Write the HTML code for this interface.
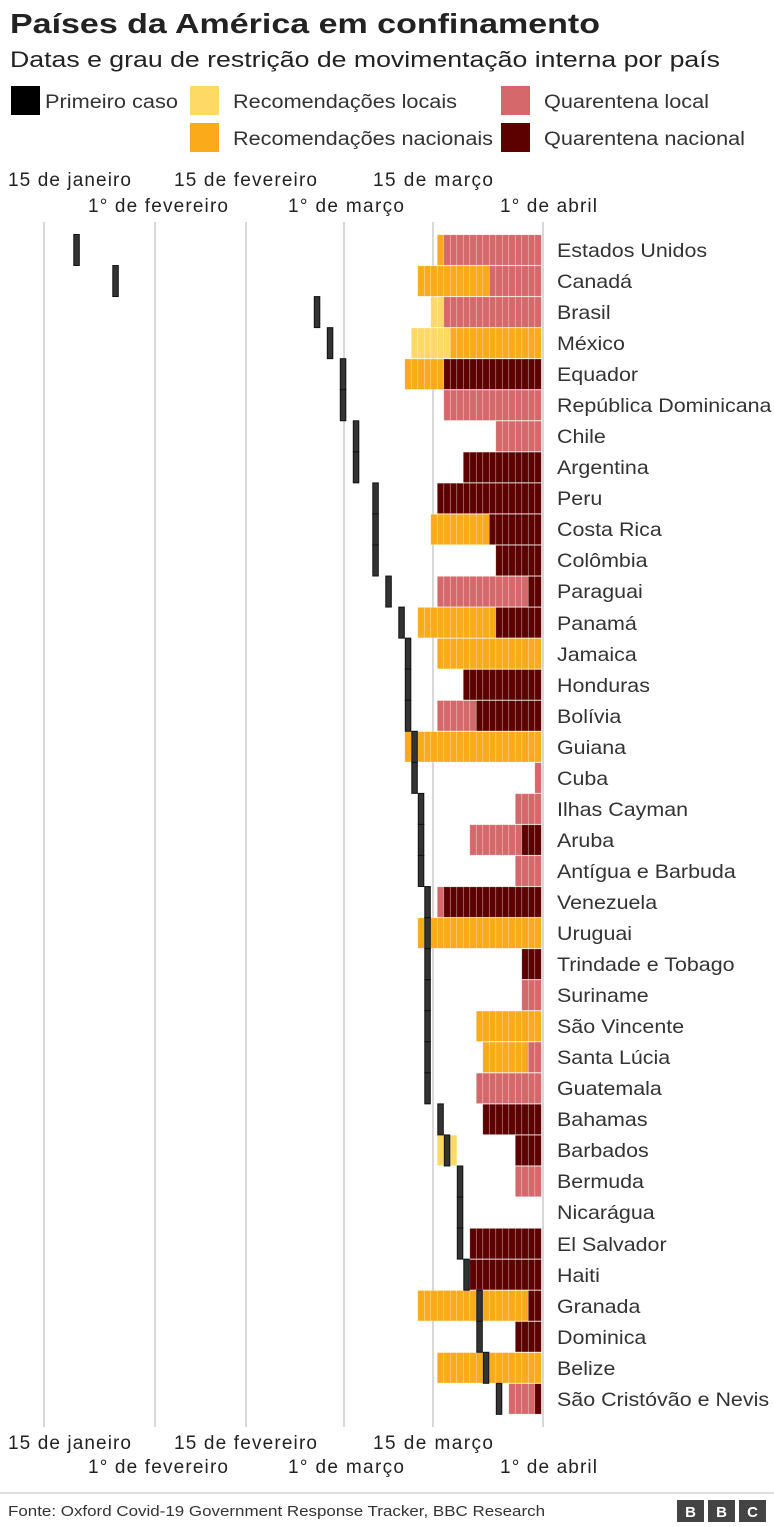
<!DOCTYPE html>
<html><head><meta charset="utf-8">
<style>
body{margin:0;background:#fff;width:774px;height:1527px;overflow:hidden;font-family:"Liberation Sans",Arial,sans-serif;color:#222}
svg{position:absolute;left:0;top:0}
</style></head><body>
<svg id="s" width="774" height="1527" viewBox="0 0 774 1527" font-family="Liberation Sans, Arial, sans-serif">
<text x="10" y="33" font-size="28" font-weight="bold" fill="#222" textLength="590" lengthAdjust="spacingAndGlyphs">Países da América em confinamento</text>
<text x="10" y="67" font-size="22" fill="#222" textLength="710" lengthAdjust="spacingAndGlyphs">Datas e grau de restrição de movimentação interna por país</text>
<rect x="11" y="86" width="29" height="29" fill="#000"/>
<text x="45" y="108" font-size="19" fill="#333" textLength="133" lengthAdjust="spacingAndGlyphs">Primeiro caso</text>
<rect x="190" y="86" width="29" height="29" fill="#FED965"/>
<text x="233" y="108" font-size="19" fill="#333" textLength="224" lengthAdjust="spacingAndGlyphs">Recomendações locais</text>
<rect x="190" y="123" width="29" height="29" fill="#FBAA19"/>
<text x="233" y="145" font-size="19" fill="#333" textLength="260" lengthAdjust="spacingAndGlyphs">Recomendações nacionais</text>
<rect x="501" y="86" width="29" height="29" fill="#D5686A"/>
<text x="544" y="108" font-size="19" fill="#333" textLength="165" lengthAdjust="spacingAndGlyphs">Quarentena local</text>
<rect x="501" y="123" width="29" height="29" fill="#5C0000"/>
<text x="544" y="145" font-size="19" fill="#333" textLength="201" lengthAdjust="spacingAndGlyphs">Quarentena nacional</text>
<g font-size="19" fill="#222" lengthAdjust="spacingAndGlyphs">
<text x="8" y="186" textLength="123">15 de janeiro</text>
<text x="174" y="186" textLength="143">15 de fevereiro</text>
<text x="373" y="186" textLength="120">15 de março</text>
<text x="88" y="212" textLength="140">1° de fevereiro</text>
<text x="288" y="212" textLength="116">1° de março</text>
<text x="500" y="212" textLength="97">1° de abril</text>
<text x="8" y="1449" textLength="123">15 de janeiro</text>
<text x="174" y="1449" textLength="143">15 de fevereiro</text>
<text x="373" y="1449" textLength="120">15 de março</text>
<text x="88" y="1473" textLength="140">1° de fevereiro</text>
<text x="288" y="1473" textLength="116">1° de março</text>
<text x="500" y="1473" textLength="97">1° de abril</text>
</g>
<g stroke="#ccc" stroke-width="1.5">
<line x1="44" y1="222" x2="44" y2="1427"/>
<line x1="155" y1="222" x2="155" y2="1427"/>
<line x1="246" y1="222" x2="246" y2="1427"/>
<line x1="344" y1="222" x2="344" y2="1427"/>
<line x1="433" y1="222" x2="433" y2="1427"/>
<line x1="543" y1="222" x2="543" y2="1427"/>
</g>
<g id="bars"></g>
<g font-size="19.5" fill="#333" transform="translate(557,0) scale(1.1,1) translate(-557,0)">
<text x="557" y="257">Estados Unidos</text>
<text x="557" y="288">Canadá</text>
<text x="557" y="319">Brasil</text>
<text x="557" y="350">México</text>
<text x="557" y="381">Equador</text>
<text x="557" y="412">República Dominicana</text>
<text x="557" y="443">Chile</text>
<text x="557" y="474">Argentina</text>
<text x="557" y="505">Peru</text>
<text x="557" y="536">Costa Rica</text>
<text x="557" y="567">Colômbia</text>
<text x="557" y="598">Paraguai</text>
<text x="557" y="630">Panamá</text>
<text x="557" y="661">Jamaica</text>
<text x="557" y="692">Honduras</text>
<text x="557" y="723">Bolívia</text>
<text x="557" y="754">Guiana</text>
<text x="557" y="785">Cuba</text>
<text x="557" y="816">Ilhas Cayman</text>
<text x="557" y="847">Aruba</text>
<text x="557" y="878">Antígua e Barbuda</text>
<text x="557" y="909">Venezuela</text>
<text x="557" y="940">Uruguai</text>
<text x="557" y="971">Trindade e Tobago</text>
<text x="557" y="1002">Suriname</text>
<text x="557" y="1033">São Vincente</text>
<text x="557" y="1064">Santa Lúcia</text>
<text x="557" y="1095">Guatemala</text>
<text x="557" y="1126">Bahamas</text>
<text x="557" y="1157">Barbados</text>
<text x="557" y="1188">Bermuda</text>
<text x="557" y="1219">Nicarágua</text>
<text x="557" y="1251">El Salvador</text>
<text x="557" y="1282">Haiti</text>
<text x="557" y="1313">Granada</text>
<text x="557" y="1344">Dominica</text>
<text x="557" y="1375">Belize</text>
<text x="557" y="1406">São Cristóvão e Nevis</text>
</g>
<line x1="0" y1="1493" x2="774" y2="1493" stroke="#bbb" stroke-width="1"/>
<text x="8" y="1516" font-size="15" fill="#333" textLength="537" lengthAdjust="spacingAndGlyphs">Fonte: Oxford Covid-19 Government Response Tracker, BBC Research</text>
<g font-size="15" font-weight="bold" fill="#fff" text-anchor="middle">
<rect x="677" y="1500" width="27" height="22" fill="#444"/><text x="690.5" y="1517">B</text>
<rect x="708" y="1500" width="27" height="22" fill="#444"/><text x="721.5" y="1517">B</text>
<rect x="739" y="1500" width="27" height="22" fill="#444"/><text x="752.5" y="1517">C</text>
</g>
</svg>
<script>
var Y="#FED965",O="#FBAA19",R="#D5686A",D="#5C0000";
var rows=[
[72,[[O,16,16],[R,15,1]]],
[66,[[O,19,9],[R,8,1]]],
[35,[[Y,17,16],[R,15,1]]],
[33,[[Y,20,15],[O,14,1]]],
[31,[[O,21,16],[D,15,1]]],
[31,[[R,15,1]]],
[29,[[R,7,1]]],
[29,[[D,12,1]]],
[26,[[D,16,1]]],
[26,[[O,17,9],[D,8,1]]],
[26,[[D,7,1]]],
[24,[[R,16,3],[D,2,1]]],
[22,[[O,19,8],[D,7,1]]],
[21,[[O,16,1]]],
[21,[[D,12,1]]],
[21,[[R,16,11],[D,10,1]]],
[20,[[O,21,1]]],
[20,[[R,1,1]]],
[19,[[R,4,1]]],
[19,[[R,11,4],[D,3,1]]],
[19,[[R,4,1]]],
[18,[[R,16,16],[D,15,1]]],
[18,[[O,19,1]]],
[18,[[D,3,1]]],
[18,[[R,3,1]]],
[18,[[O,10,1]]],
[18,[[O,9,3],[R,2,1]]],
[18,[[R,10,1]]],
[16,[[D,9,1]]],
[15,[[Y,16,14],[D,4,1]]],
[13,[[R,4,1]]],
[13,[]],
[13,[[D,11,1]]],
[12,[[D,11,1]]],
[10,[[O,19,3],[D,2,1]]],
[10,[[D,4,1]]],
[9,[[O,16,1]]],
[7,[[R,5,2],[D,1,1]]]
];
var g=document.getElementById("bars"),h="";
var E=541.3,W=6.5;
rows.forEach(function(r,i){
 var top=250+31.05*i-15.2, ht=30.4;
 r[1].forEach(function(s){
  for(var j=s[1];j>=s[2];j--){
   var x=E-W*j;
   h+='<rect x="'+x.toFixed(2)+'" y="'+top.toFixed(2)+'" width="'+W+'" height="'+ht+'" fill="'+s[0]+'" stroke="#fff" stroke-opacity="0.35" stroke-width="0.7"/>';
  }
 });
});
rows.forEach(function(r,i){
 var top=250+31.05*i-15.5, x=E-W*r[0];
 h+='<rect x="'+(x+0.5).toFixed(2)+'" y="'+top.toFixed(2)+'" width="'+(W-1)+'" height="31" fill="#333" stroke="#111" stroke-width="1"/>';
});
g.innerHTML=h;
</script>
</body></html>
